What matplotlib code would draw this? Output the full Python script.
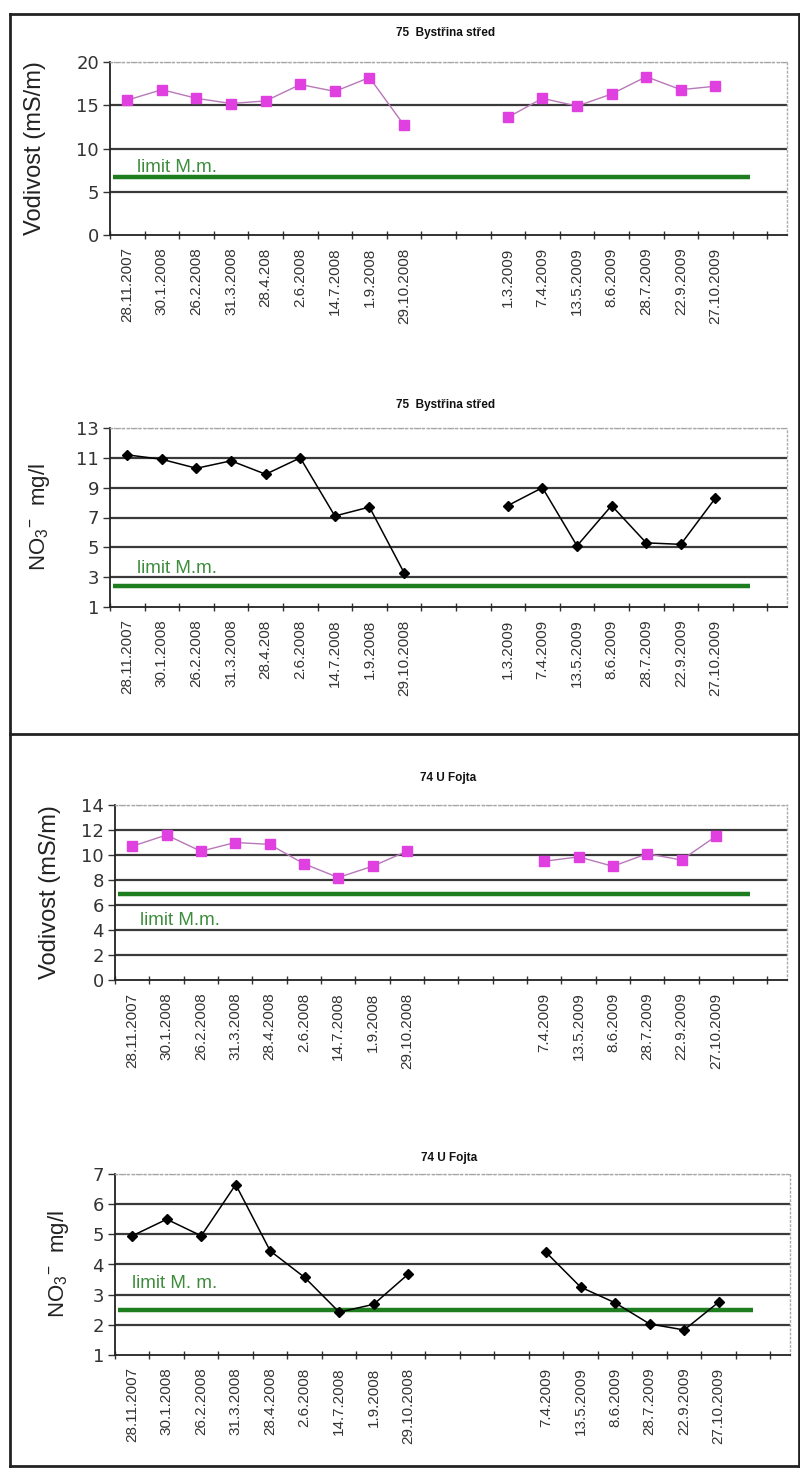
import numpy as np
import matplotlib
matplotlib.use("Agg")
import matplotlib.pyplot as plt
from matplotlib.lines import Line2D

nan = np.nan

# ---------------- data ----------------
dates_75 = ['28.11.2007', '30.1.2008', '26.2.2008', '31.3.2008', '28.4.208', '2.6.2008',
            '14.7.2008', '1.9.2008', '29.10.2008', '', '', '1.3.2009', '7.4.2009',
            '13.5.2009', '8.6.2009', '28.7.2009', '22.9.2009', '27.10.2009', '']
dates_74 = ['28.11.2007', '30.1.2008', '26.2.2008', '31.3.2008', '28.4.2008', '2.6.2008',
            '14.7.2008', '1.9.2008', '29.10.2008', '', '', '', '7.4.2009',
            '13.5.2009', '8.6.2009', '28.7.2009', '22.9.2009', '27.10.2009', '']

cond_75 = [15.6, 16.8, 15.8, 15.2, 15.5, 17.4, 16.6, 18.2, 12.7, nan, nan,
           13.6, 15.8, 14.9, 16.3, 18.3, 16.8, 17.2, nan]
no3_75 = [11.2, 10.9, 10.3, 10.8, 9.9, 11.0, 7.1, 7.7, 3.3, nan, nan,
          7.8, 9.0, 5.1, 7.8, 5.3, 5.2, 8.3, nan]
cond_74 = [10.7, 11.6, 10.3, 11.0, 10.85, 9.3, 8.2, 9.1, 10.3, nan, nan, nan,
           9.5, 9.85, 9.1, 10.1, 9.6, 11.5, nan]
no3_74 = [4.95, 5.5, 4.95, 6.65, 4.45, 3.57, 2.42, 2.68, 3.68, nan, nan, nan,
          4.4, 3.25, 2.73, 2.03, 1.83, 2.75, nan]

limit_values = [6.7, 2.4, 6.9, 2.5]
limit_texts = ['limit M.m.', 'limit M.m.', 'limit M.m.', 'limit M. m.']
titles = ['75  Bystřina střed', '75  Bystřina střed', '74 U Fojta', '74 U Fojta']
ylabels = ['Vodivost (mS/m)', r'NO$_3$$^{-}$  mg/l', 'Vodivost (mS/m)', r'NO$_3$$^{-}$  mg/l']
yticks_list = [np.arange(0, 21, 5), np.arange(1, 14, 2), np.arange(0, 15, 2), np.arange(1, 8, 1)]

# ---------------- layout ----------------
W, H = 800, 1468
fig = plt.figure(figsize=(W / 100, H / 100), dpi=100)
fig.patch.set_facecolor('white')
plt.rcParams['mathtext.fontset'] = 'custom'
plt.rcParams['mathtext.rm'] = 'Liberation Sans'
plt.rcParams['mathtext.it'] = 'Liberation Sans'


def fx(x):
    return x / W


def fy(y):
    return 1 - y / H


# (left, top, right, bottom) in pixels
boxes = [(110, 62, 787, 235), (110, 428, 787, 607), (115, 805, 787, 980), (115, 1174, 790, 1355)]
title_y = [33, 405, 778, 1158]
ylabel_x = [-0.095, -0.085, -0.08, -0.065]
limit_text_pos = [(0.28, 7.3), (0.28, 3.27), (0.23, 4.4), (-0.01, 3.22)]

series = [(cond_75, dates_75, 'cond'), (no3_75, dates_75, 'no3'),
          (cond_74, dates_74, 'cond'), (no3_74, dates_74, 'no3')]

FONT = 'Liberation Sans'
green = '#1e7d1e'

for i, ((vals, labels, kind), (l, t, r, b)) in enumerate(zip(series, boxes)):
    ax = fig.add_axes([fx(l), fy(b), (r - l) / W, (b - t) / H])
    n = len(labels)
    x = np.arange(n)
    yt = yticks_list[i]
    ax.set_xlim(-0.5, n + 0.07)
    ax.set_ylim(yt[0], yt[-1])

    # grid
    for g in yt[1:-1]:
        ax.axhline(g, color='#3a3a3a', lw=1.6, zorder=1)
    ax.axhline(yt[-1], color='#9a9a9a', lw=1.0, ls=(0, (2, 2)), zorder=1)

    # limit line
    ax.plot([-0.4, n - 1], [limit_values[i]] * 2, color=green, lw=3.2, zorder=2,
            solid_capstyle='butt')
    ax.text(limit_text_pos[i][0], limit_text_pos[i][1], limit_texts[i], color='#3c8c3c',
            fontsize=13.5, family=FONT, va='baseline', ha='left', zorder=3)

    if kind == 'cond':
        ax.plot(x, vals, color='#b878b8', lw=1.0, marker='s', ms=6.5,
                markerfacecolor='#e040e0', markeredgecolor='#e040e0', zorder=4)
    else:
        ax.plot(x, vals, color='black', lw=1.1, marker='D', ms=5,
                markerfacecolor='black', markeredgecolor='black', zorder=4)

    # spines
    for s in ['top', 'right']:
        ax.spines[s].set_color('#aaaaaa')
        ax.spines[s].set_linestyle((0, (1, 2)))
        ax.spines[s].set_linewidth(1.0)
    for s in ['left', 'bottom']:
        ax.spines[s].set_color('#222222')
        ax.spines[s].set_linewidth(1.3)

    # x ticks: boundaries (major) + labels at centers (minor)
    ax.set_xticks(np.arange(-0.5, n, 1.0))
    ax.set_xticklabels([])
    ax.set_xticks(x, minor=True)
    ax.set_xticklabels(labels, minor=True, rotation=90, fontsize=11, family=FONT,
                       color='#333333', va='top', ha='center')
    ax.tick_params(axis='x', which='major', direction='inout', length=6, width=1.0,
                   color='#333333')
    ax.tick_params(axis='x', which='minor', length=0, pad=9)

    ax.set_yticks(yt)
    ax.set_yticklabels([str(v) for v in yt], fontsize=13, family='DejaVu Sans',
                       color='#333333')
    ax.tick_params(axis='y', direction='out', length=5, width=1.0, color='#333333', pad=3)

    ax.set_ylabel(ylabels[i], fontsize=17 if kind == 'cond' else 16, family=FONT,
                  color='#222222')
    ax.yaxis.set_label_coords(ylabel_x[i], 0.5)

    fig.text(fx((l + r) / 2 - 3), fy(title_y[i]), titles[i], fontsize=8.5, fontweight='bold',
             family=FONT, ha='center', va='center', color='#111111')


# outer boxes
def hline(y, x0, x1):
    fig.add_artist(Line2D([fx(x0), fx(x1)], [fy(y), fy(y)], color='#222222', lw=2.0))


def vline(x, y0, y1):
    fig.add_artist(Line2D([fx(x), fx(x)], [fy(y0), fy(y1)], color='#222222', lw=2.0))


hline(14, 10, 799)
hline(734, 10, 799)
hline(1466, 10, 799)
vline(10, 14, 1466)
vline(799, 14, 1466)

fig.savefig('out.png', dpi=100, facecolor='white')
